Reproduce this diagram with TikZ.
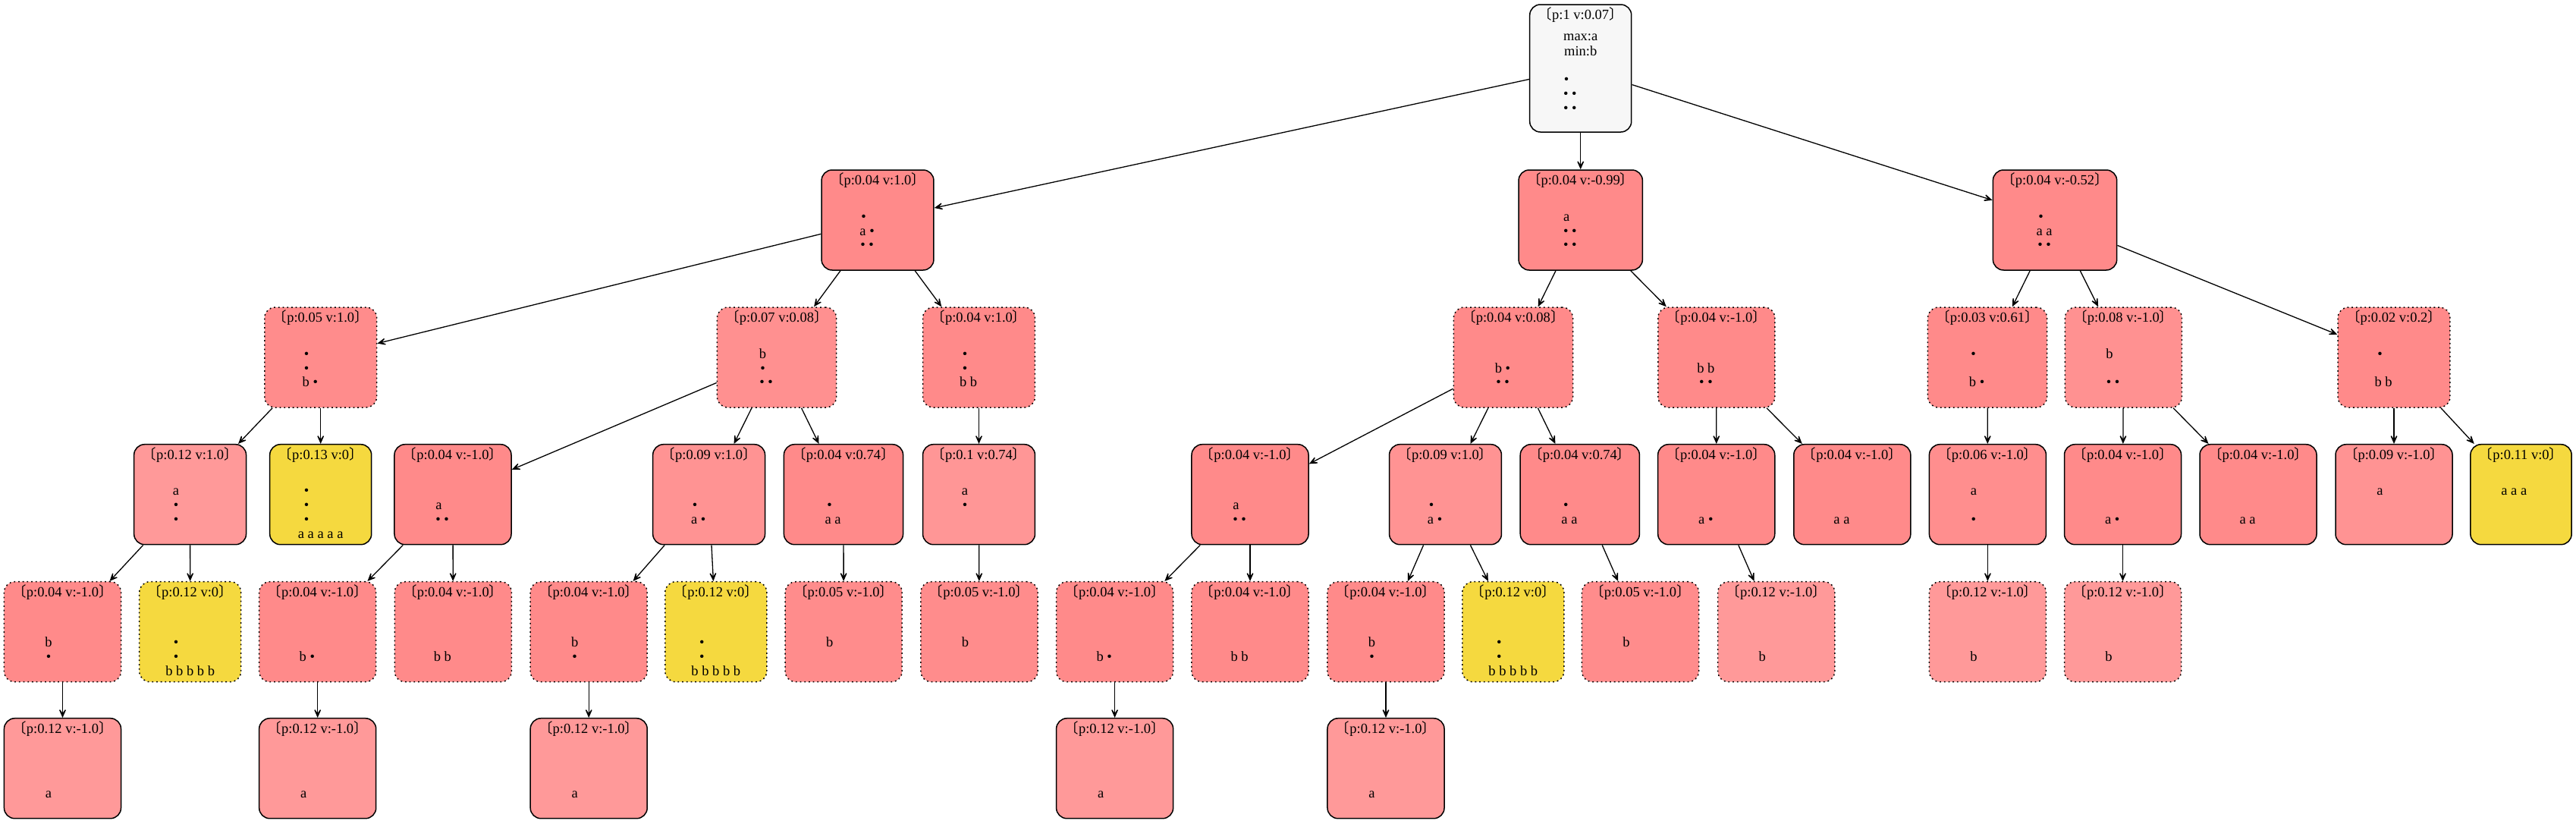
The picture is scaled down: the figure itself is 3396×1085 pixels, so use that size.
\documentclass[tikz,border=0pt]{standalone}
\usepackage{fontspec}
\setmainfont{Liberation Serif}
\newfontfamily\cjkf{Noto Sans CJK SC}
\usetikzlibrary{arrows.meta}
\definecolor{pkbase}{HTML}{FF8A8A}
\definecolor{ylw}{HTML}{F5D93F}
\definecolor{rootgray}{HTML}{F7F7F7}
\newcommand\cc[1]{\if\relax\detokenize{#1}\relax\ \else#1\fi}
\newcommand\bd[5]{\cc{#1}\ \cc{#2}\ \cc{#3}\ \cc{#4}\ \cc{#5}}
\newcommand\xD{\bd{•}{}{}{}{}}
\newcommand\xDD{\bd{•}{•}{}{}{}}
\newcommand\xA{\bd{a}{}{}{}{}}
\newcommand\xAA{\bd{a}{a}{}{}{}}
\newcommand\xAAA{\bd{a}{a}{a}{}{}}
\newcommand\xAAAAA{\bd{a}{a}{a}{a}{a}}
\newcommand\xAD{\bd{a}{•}{}{}{}}
\newcommand\xB{\bd{b}{}{}{}{}}
\newcommand\xBD{\bd{b}{•}{}{}{}}
\newcommand\xBB{\bd{b}{b}{}{}{}}
\newcommand\xBBBBB{\bd{b}{b}{b}{b}{b}}
\newcommand\lab[8]{%
  \setbox0=\hbox{{\cjkf 〔}#1{\cjkf 〕}}%
  \vbox to #2pt{\offinterlineskip\hsize=\wd0
    \vskip 19.5pt\hbox to\hsize{\hss\smash{\copy0}\hss}%
    \vskip 27.5pt\hbox to\hsize{\hss\smash{#3}\hss}%
    \vskip 20.2pt\hbox to\hsize{\hss\smash{#4}\hss}%
    \vskip 18.8pt\hbox to\hsize{\hss\smash{#5}\hss}%
    \vskip 18.8pt\hbox to\hsize{\hss\smash{#6}\hss}%
    \vskip 18.8pt\hbox to\hsize{\hss\smash{#7}\hss}%
    \vskip 18.8pt\hbox to\hsize{\hss\smash{#8}\hss}%
    \vss}}
\newcommand\lb[5]{\lab{#1}{132}{}{#2}{#3}{#4}{#5}{}}
\tikzset{
  bx/.style={draw=black, line width=1.5pt, rounded corners=14pt, inner xsep=11pt, inner ysep=0pt},
  sol/.style={bx},
  dotb/.style={bx, dash pattern=on 1.8pt off 3.9pt},
  pc/.style={fill=pkbase!#1!white},
  yl/.style={fill=ylw},
  arr/.style={-{Stealth[length=16pt,width=14pt,inset=10pt]}, line width=1.3pt}
}
\begin{document}
\begin{tikzpicture}[x=1pt,y=-1pt,font=\fontsize{18.5pt}{18.8pt}\selectfont]
\fill[white] (0,0) rectangle (3396,1085);
\useasboundingbox (0,0) rectangle (3396,1085);
% level 0
\node[bx,fill=rootgray] (R0) at (2083.7,90) {\lab{p:1 v:0.07}{168}{max:a}{min:b}{}{\xD}{\xDD}{\xDD}};
% level 1
\node[sol,pc=100] (A) at (1157,290) {\lb{p:0.04 v:1.0}{\xD}{\xAD}{\xDD}{}};
\node[sol,pc=100] (B) at (2083.7,290) {\lb{p:0.04 v:-0.99}{\xA}{\xDD}{\xDD}{}};
\node[sol,pc=100] (C) at (2709,290) {\lb{p:0.04 v:-0.52}{\xD}{\xAA}{\xDD}{}};
% level 2
\node[dotb,pc=98] (D) at (422.7,471) {\lb{p:0.05 v:1.0}{\xD}{\xD}{\xBD}{}};
\node[dotb,pc=95] (E) at (1024,471) {\lb{p:0.07 v:0.08}{\xB}{\xD}{\xDD}{}};
\node[dotb,pc=100] (F) at (1290.5,471) {\lb{p:0.04 v:1.0}{\xD}{\xD}{\xBB}{}};
\node[dotb,pc=100] (G) at (1994.9,471) {\lb{p:0.04 v:0.08}{}{\xBD}{\xDD}{}};
\node[dotb,pc=100] (H) at (2262.8,471) {\lb{p:0.04 v:-1.0}{}{\xBB}{\xDD}{}};
\node[dotb,pc=100] (I) at (2620,471) {\lb{p:0.03 v:0.61}{\xD}{}{\xBD}{}};
\node[dotb,pc=94] (J) at (2799.4,471) {\lb{p:0.08 v:-1.0}{\xB}{}{\xDD}{}};
\node[dotb,pc=100] (K) at (3156,471) {\lb{p:0.02 v:0.2}{\xD}{}{\xBB}{}};
% level 3
\node[sol,pc=87] (L) at (250.6,651.7) {\lb{p:0.12 v:1.0}{\xA}{\xD}{\xD}{}};
\node[sol,yl] (M) at (422.7,651.7) {\lb{p:0.13 v:0}{\xD}{\xD}{\xD}{\xAAAAA}};
\node[sol,pc=100] (N) at (597,651.7) {\lb{p:0.04 v:-1.0}{}{\xA}{\xDD}{}};
\node[sol,pc=92] (O) at (934.6,651.7) {\lb{p:0.09 v:1.0}{}{\xD}{\xAD}{}};
\node[sol,pc=100] (P) at (1112,651.7) {\lb{p:0.04 v:0.74}{}{\xD}{\xAA}{}};
\node[sol,pc=90] (Q) at (1290.5,651.7) {\lb{p:0.1 v:0.74}{\xA}{\xD}{}{}};
\node[sol,pc=100] (R) at (1648,651.7) {\lb{p:0.04 v:-1.0}{}{\xA}{\xDD}{}};
\node[sol,pc=92] (S) at (1905.5,651.7) {\lb{p:0.09 v:1.0}{}{\xD}{\xAD}{}};
\node[sol,pc=100] (T) at (2082.8,651.7) {\lb{p:0.04 v:0.74}{}{\xD}{\xAA}{}};
\node[sol,pc=100] (U) at (2262.7,651.7) {\lb{p:0.04 v:-1.0}{}{}{\xAD}{}};
\node[sol,pc=100] (V) at (2441.8,651.7) {\lb{p:0.04 v:-1.0}{}{}{\xAA}{}};
\node[sol,pc=97] (W) at (2620.4,651.7) {\lb{p:0.06 v:-1.0}{\xA}{}{\xD}{}};
\node[sol,pc=100] (X) at (2798.5,651.7) {\lb{p:0.04 v:-1.0}{}{}{\xAD}{}};
\node[sol,pc=100] (Y) at (2977,651.7) {\lb{p:0.04 v:-1.0}{}{}{\xAA}{}};
\node[sol,pc=92] (Z) at (3156,651.7) {\lb{p:0.09 v:-1.0}{\xA}{}{}{}};
\node[sol,yl] (AA) at (3323.5,651.7) {\lb{p:0.11 v:0}{\xAAA}{}{}{}};
% level 4
\node[dotb,pc=100] (AB) at (82.5,832.7) {\lb{p:0.04 v:-1.0}{}{\xB}{\xD}{}};
\node[dotb,yl] (AC) at (250.7,832.7) {\lb{p:0.12 v:0}{}{\xD}{\xD}{\xBBBBB}};
\node[dotb,pc=100] (AD) at (418.7,832.7) {\lb{p:0.04 v:-1.0}{}{}{\xBD}{}};
\node[dotb,pc=100] (AE) at (597.3,832.7) {\lb{p:0.04 v:-1.0}{}{}{\xBB}{}};
\node[dotb,pc=100] (AF) at (776.2,832.7) {\lb{p:0.04 v:-1.0}{}{\xB}{\xD}{}};
\node[dotb,yl] (AG) at (943.8,832.7) {\lb{p:0.12 v:0}{}{\xD}{\xD}{\xBBBBB}};
\node[dotb,pc=98] (AH) at (1112.2,832.7) {\lb{p:0.05 v:-1.0}{}{\xB}{}{}};
\node[dotb,pc=98] (AI) at (1291,832.7) {\lb{p:0.05 v:-1.0}{}{\xB}{}{}};
\node[dotb,pc=100] (AJ) at (1469.6,832.7) {\lb{p:0.04 v:-1.0}{}{}{\xBD}{}};
\node[dotb,pc=100] (AK) at (1648,832.7) {\lb{p:0.04 v:-1.0}{}{}{\xBB}{}};
\node[dotb,pc=100] (AL) at (1827,832.7) {\lb{p:0.04 v:-1.0}{}{\xB}{\xD}{}};
\node[dotb,yl] (AM) at (1994.8,832.7) {\lb{p:0.12 v:0}{}{\xD}{\xD}{\xBBBBB}};
\node[dotb,pc=98] (AN) at (2162.5,832.7) {\lb{p:0.05 v:-1.0}{}{\xB}{}{}};
\node[dotb,pc=87] (AO) at (2341.7,832.7) {\lb{p:0.12 v:-1.0}{}{}{\xB}{}};
\node[dotb,pc=87] (AP) at (2620.4,832.7) {\lb{p:0.12 v:-1.0}{}{}{\xB}{}};
\node[dotb,pc=87] (AQ) at (2798.5,832.7) {\lb{p:0.12 v:-1.0}{}{}{\xB}{}};
% level 5
\node[sol,pc=87] (AR) at (82.5,1012.7) {\lb{p:0.12 v:-1.0}{}{}{\xA}{}};
\node[sol,pc=87] (AS) at (418.7,1012.7) {\lb{p:0.12 v:-1.0}{}{}{\xA}{}};
\node[sol,pc=87] (AT) at (776.2,1012.7) {\lb{p:0.12 v:-1.0}{}{}{\xA}{}};
\node[sol,pc=87] (AU) at (1469.6,1012.7) {\lb{p:0.12 v:-1.0}{}{}{\xA}{}};
\node[sol,pc=87] (AV) at (1827,1012.7) {\lb{p:0.12 v:-1.0}{}{}{\xA}{}};
% edges
\draw[arr] (R0) -- (A);
\draw[arr] (R0) -- (B);
\draw[arr] (R0) -- (C);
\draw[arr] (A) -- (D);
\draw[arr] (A) -- (E);
\draw[arr] (A) -- (F);
\draw[arr] (D) -- (L);
\draw[arr] (D) -- (M);
\draw[arr] (E) -- (N);
\draw[arr] (E) -- (O);
\draw[arr] (E) -- (P);
\draw[arr] (F) -- (Q);
\draw[arr] (L) -- (AB);
\draw[arr] (L) -- (AC);
\draw[arr] (N) -- (AD);
\draw[arr] (N) -- (AE);
\draw[arr] (O) -- (AF);
\draw[arr] (O) -- (AG);
\draw[arr] (P) -- (AH);
\draw[arr] (Q) -- (AI);
\draw[arr] (AB) -- (AR);
\draw[arr] (AD) -- (AS);
\draw[arr] (AF) -- (AT);
\draw[arr] (B) -- (G);
\draw[arr] (B) -- (H);
\draw[arr] (G) -- (R);
\draw[arr] (G) -- (S);
\draw[arr] (G) -- (T);
\draw[arr] (H) -- (U);
\draw[arr] (H) -- (V);
\draw[arr] (R) -- (AJ);
\draw[arr] (R) -- (AK);
\draw[arr] (S) -- (AL);
\draw[arr] (S) -- (AM);
\draw[arr] (T) -- (AN);
\draw[arr] (U) -- (AO);
\draw[arr] (AJ) -- (AU);
\draw[arr] (AL) -- (AV);
\draw[arr] (C) -- (I);
\draw[arr] (C) -- (J);
\draw[arr] (C) -- (K);
\draw[arr] (I) -- (W);
\draw[arr] (J) -- (X);
\draw[arr] (J) -- (Y);
\draw[arr] (K) -- (Z);
\draw[arr] (K) -- (AA);
\draw[arr] (W) -- (AP);
\draw[arr] (X) -- (AQ);
\end{tikzpicture}
\end{document}
